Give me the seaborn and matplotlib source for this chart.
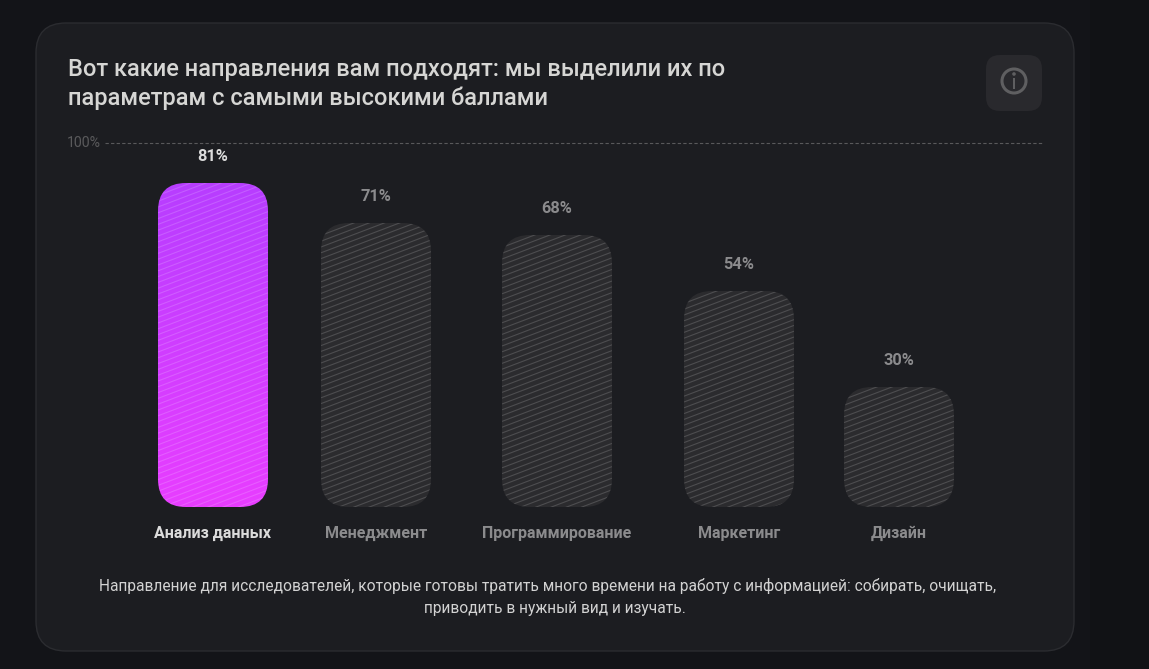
import numpy as np
import pandas as pd
import matplotlib
matplotlib.use("Agg")
import matplotlib.pyplot as plt
import seaborn as sns
from matplotlib.patches import FancyBboxPatch, Circle, Rectangle
from matplotlib.collections import LineCollection
from matplotlib.colors import LinearSegmentedColormap

# Scores
directions = ["Анализ данных", "Менеджмент", "Программирование", "Маркетинг", "Дизайн"]
scores = [81, 71, 68, 54, 30]
score_labels = ["81%", "71%", "68%", "54%", "30%"]
title_text = "Вот какие направления вам подходят: мы выделили их по\nпараметрам с самыми высокими баллами"
note_lines = [
    "Направление для исследователей, которые готовы тратить много времени на работу с информацией: собирать, очищать,",
    "приводить в нужный вид и изучать.",
]

# Layout, in pixels of the 1149x669 canvas
W, H = 1149, 669
bar_centers = [213, 376, 557, 739, 899]
BAR_W = 110
BASE_Y = 507
PX_PER_POINT = 4
RADIUS = 28

sns.set_theme(style="white")
plt.rcParams["font.family"] = ["Roboto", "DejaVu Sans"]

fig = plt.figure(figsize=(W / 100, H / 100), dpi=100, facecolor="#131418")

# Backdrop layer addressed in canvas pixels
bg = fig.add_axes([0, 0, 1, 1])
bg.set_xlim(0, W)
bg.set_ylim(H, 0)
bg.axis("off")
bg.add_patch(Rectangle((0, 0), 1090, H, fc="#131418", ec="none"))
bg.add_patch(Rectangle((1090, 0), W - 1090, H, fc="#111215", ec="none"))
bg.add_patch(FancyBboxPatch((36 + 30, 23 + 30), 1038 - 60, 628 - 60,
                            boxstyle="round,pad=30,rounding_size=30",
                            fc="#1c1d21", ec="#2b2c30", lw=1))

bg.text(68, 84, title_text, color="#d6d6d4", fontsize=17.05, fontweight="medium",
        va="center", ha="left", linespacing=1.25)

# Info button
bg.add_patch(FancyBboxPatch((986 + 14, 55 + 14), 56 - 28, 56 - 28,
                            boxstyle="round,pad=14,rounding_size=14",
                            fc="#29292d", ec="none"))
bg.add_patch(Circle((1014, 81), 12, fc="none", ec="#5f5f61", lw=2.2))
bg.add_patch(Rectangle((1012.6, 78), 2.8, 10.5, fc="#5f5f61", ec="none"))
bg.add_patch(Circle((1014, 74), 1.8, fc="#5f5f61", ec="none"))

# 100% reference line
bg.text(67, 143, "100%", color="#5a5a5c", fontsize=10.2, va="center", ha="left")
bg.plot([105, 1042], [143, 143], color="#59595b", lw=0.8, dashes=(3, 2))

# Bars on a linear 0-100 axis
ax = fig.add_axes([0, (H - BASE_Y) / H, 1, 100 * PX_PER_POINT / H])
ax.patch.set_alpha(0)
frame = pd.DataFrame({"center": bar_centers, "direction": directions, "score": scores})
sns.barplot(data=frame, x="center", y="score", native_scale=True, width=BAR_W,
            color="#2b2b2e", saturation=1, linewidth=0, ax=ax)
ax.set_xlim(0, W)
ax.set_ylim(0, 100)
ax.set_xlabel("")
ax.set_ylabel("")
for side in ax.spines.values():
    side.set_visible(False)
ax.set_yticks([])
ax.set_xticks(bar_centers, directions)
ax.tick_params(axis="x", length=0, pad=13.5)
for i, tick in enumerate(ax.get_xticklabels()):
    tick.set_color("#dcdcdc" if i == 0 else "#8b8b8d")
    tick.set_fontsize(11.5)
    tick.set_fontweight("bold")

cmap = LinearSegmentedColormap.from_list("accent", ["#b73dff", "#e83dff"])
SLOPE = 0.38
STEP = 5.8
for i, bar in enumerate(ax.patches):
    x0 = bar.get_x() + bar.get_width() / 2 - BAR_W / 2
    top = BASE_Y - bar.get_height() * PX_PER_POINT
    h = BASE_Y - top

    # Rounded outline used as the clip region of the bar and its fill
    outline = FancyBboxPatch((x0 + RADIUS, top + RADIUS), BAR_W - 2 * RADIUS, h - 2 * RADIUS,
                             boxstyle=f"round,pad={RADIUS},rounding_size={RADIUS}",
                             fc="none", ec="none", transform=bg.transData)
    ax.add_patch(outline)
    bar.set_clip_path(outline)

    if i == 0:
        ramp = np.linspace(0, 1, 256).reshape(-1, 1)
        fill = ax.imshow(ramp, cmap=cmap, aspect="auto", zorder=3,
                         extent=[x0, x0 + BAR_W, 0, bar.get_height()], origin="upper")
        fill.set_clip_path(outline)
        ax.set_xlim(0, W)
        ax.set_ylim(0, 100)

    # Diagonal stripes over the fill
    offsets = np.arange(top - 5, BASE_Y + BAR_W * SLOPE + STEP, STEP)
    segs = [[(x0, y), (x0 + BAR_W, y - BAR_W * SLOPE)] for y in offsets]
    lines = LineCollection(segs, colors=[(1, 1, 1, 0.16)], linewidths=0.8,
                           transform=bg.transData, zorder=4)
    ax.add_collection(lines, autolim=False)
    lines.set_clip_path(outline)

    ax.annotate(score_labels[i], (bar.get_x() + bar.get_width() / 2, bar.get_height()),
                xytext=(0, 26.5 * 0.72), textcoords="offset points", ha="center", va="center",
                color="#dcdcdc" if i == 0 else "#8b8b8d", fontsize=11.8, fontweight="bold")

# Explanatory note under the chart
bg.text(548, 585.5, note_lines[0], color="#d2d2d2", fontsize=11.2, ha="center", va="center")
bg.text(554.5, 608.5, note_lines[1], color="#d2d2d2", fontsize=11.2, ha="center", va="center")

fig.savefig("out.png", dpi=100, facecolor=fig.get_facecolor())
